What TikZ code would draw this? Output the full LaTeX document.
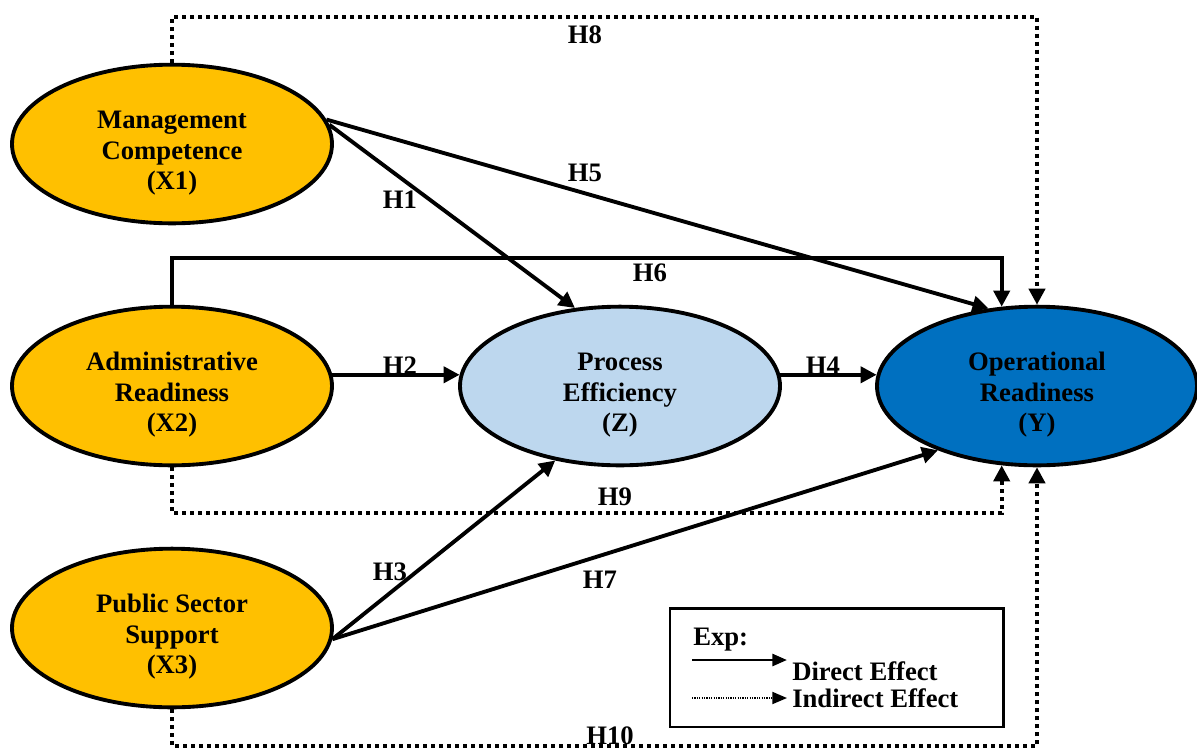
\documentclass[tikz,border=0pt]{standalone}
\usepackage{fontspec}
\setmainfont{Liberation Serif}
\usetikzlibrary{arrows.meta,positioning,shapes.geometric,calc}
\definecolor{semgold}{HTML}{FFC000}
\definecolor{semlight}{HTML}{BDD7EE}
\definecolor{semdark}{HTML}{0070C0}
\newcommand{\lvgap}{\rule{0pt}{27pt}}

\begin{document}
\begin{tikzpicture}[x=0.75pt,y=-0.75pt,
  lv/.style={ellipse,draw,line width=2.9pt,minimum width=240pt,minimum height=119pt,inner sep=0pt,fill=#1,font=\fontsize{20}{23}\selectfont\bfseries,align=center},
  eff/.style={-{Triangle[length=12pt,width=12pt]},line width=2.9pt},
  ind/.style={eff,dash pattern=on 3pt off 3pt},
  hyp/.style={font=\fontsize{20}{22}\selectfont\bfseries,inner sep=1pt},
  legtxt/.style={font=\fontsize{20}{22}\selectfont\bfseries,anchor=west,inner sep=0pt}
]
\useasboundingbox (0,0) rectangle (1197,751);
% latent variables
\node[lv=semgold]  (x1) at (172,144) {\lvgap Management\\Competence\\(X1)};
\node[lv=semgold]  (x2) at (172,386) {\lvgap Administrative\\Readiness\\(X2)};
\node[lv=semgold]  (x3) at (172,628) {\lvgap Public Sector\\Support\\(X3)};
\node[lv=semlight] (z)  at (620,386) {\lvgap Process\\Efficiency\\(Z)};
\node[lv=semdark]  (y)  at (1037,386) {\lvgap Operational\\Readiness\\(Y)};
% direct effects
\draw[eff] (x1.9) -- (y.122);
\draw[eff] (x1.7) -- (z.120);
\draw[eff] (x2.north) -- ++(0,-47) -| (y.114);
\draw[eff] (x2.4) -- (z.176);
\draw[eff] (z.4) -- (y.176);
\draw[eff] (x3.356) -- (z.229);
\draw[eff] (x3.356) -- (y.213);
% indirect effects
\draw[ind] (x1.north) -- ++(0,-46) -| (y.north);
\draw[ind] (x2.south) -- ++(0,46) -| (y.246);
\draw[ind] (x3.south) -- ++(0,37) -| (y.south);
% hypothesis labels
\node[hyp] (h8)  at (585,35)  {H8};
\node[hyp] (h5)  at (585,173) {H5};
\node[hyp] (h1)  at (400,200) {H1};
\node[hyp] (h6)  at (650,273) {H6};
\node[hyp] (h2)  at (400,366) {H2};
\node[hyp] (h4)  at (823,366) {H4};
\node[hyp] (h9)  at (615,497) {H9};
\node[hyp] (h3)  at (390,572) {H3};
\node[hyp] (h7)  at (600,580) {H7};
\node[hyp] (h10) at (610,736) {H10};
% legend
\node[draw,line width=2pt,minimum width=250pt,minimum height=89pt] (leg) at (836.5,667.5) {};
\node[legtxt] (exp) at (693,640) {Exp:};
\coordinate (da) at (692,660);
\coordinate (db) at (787,660);
\coordinate (ia) at (692,698);
\coordinate (ib) at (787,698);
\draw[-{Triangle[length=11pt,width=9pt]},line width=2pt] (da) -- (db);
\draw[-{Triangle[length=11pt,width=9pt]},line width=1.4pt,dash pattern=on 0.9pt off 0.9pt] (ia) -- (ib);
\node[legtxt] (dtxt) at (792,671) {Direct Effect};
\node[legtxt] (itxt) at (792,698) {Indirect Effect};
\end{tikzpicture}
\end{document}
